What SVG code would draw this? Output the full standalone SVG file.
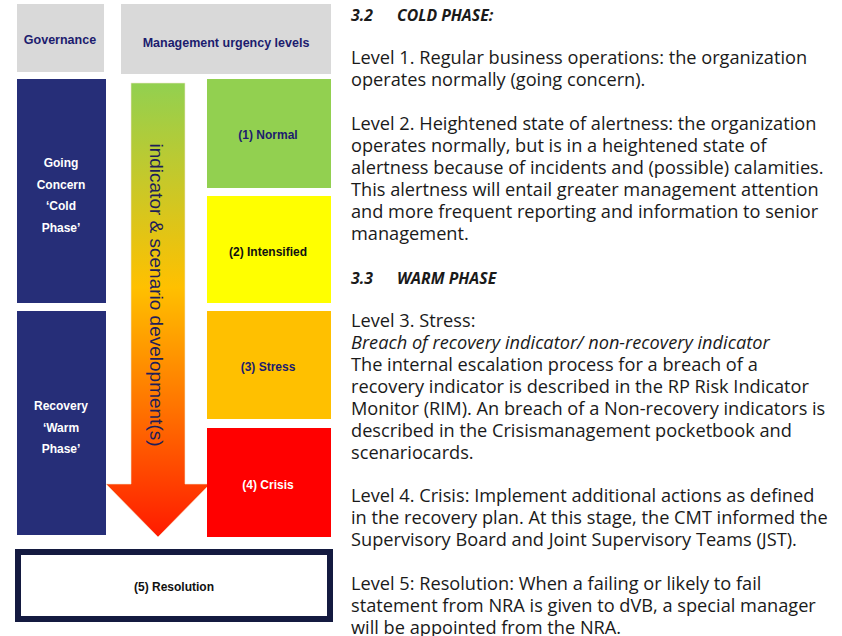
<svg xmlns="http://www.w3.org/2000/svg" width="842" height="636" viewBox="0 0 842 636">
<defs>
<linearGradient id="arrowGrad" gradientUnits="userSpaceOnUse" x1="0" y1="83" x2="0" y2="537">
<stop offset="0" stop-color="#92D050"/>
<stop offset="0.45" stop-color="#FFC000"/>
<stop offset="0.72" stop-color="#FF7200"/>
<stop offset="1" stop-color="#FF1A00"/>
</linearGradient>
<style>
.hdr{fill:#D9D9D9}
.navy{fill:#262E78}
.lbl{font-family:"Liberation Sans",Arial,sans-serif;font-weight:bold;font-size:12px;text-anchor:middle}
.big{font-size:12.5px}
.dk{fill:#1C1C6E}
.wt{fill:#FFFFFF}
.body{font-family:"Open Sans","Noto Sans",sans-serif;font-size:18.2px;fill:#1A1A1A}
.head{font-family:"Open Sans","Noto Sans",sans-serif;font-size:15.8px;font-weight:bold;font-style:italic;fill:#1A1A1A}
</style>
</defs>
<rect width="842" height="636" fill="#FFFFFF"/>

<g id="governance-header">
<rect class="hdr" x="17" y="4" width="87" height="68"/>
<text class="lbl big dk" x="60" y="44">Governance</text>
</g>
<g id="management-header">
<rect class="hdr" x="121" y="4" width="210" height="70"/>
<text class="lbl big dk" x="226" y="47">Management urgency levels</text>
</g>

<g id="going-concern">
<rect class="navy" x="17" y="79" width="89" height="224"/>
<text class="lbl wt" x="61" y="167">Going</text>
<text class="lbl wt" x="61" y="189">Concern</text>
<text class="lbl wt" x="61" y="210">‘Cold</text>
<text class="lbl wt" x="61" y="232">Phase’</text>
</g>
<g id="recovery">
<rect class="navy" x="17" y="311" width="89" height="224"/>
<text class="lbl wt" x="61" y="410">Recovery</text>
<text class="lbl wt" x="61" y="432">‘Warm</text>
<text class="lbl wt" x="61" y="453">Phase’</text>
</g>

<g id="connectors">
<path d="M131,83 L185,83 L185,484 L210,484 L158,537 L106,484 L131,484 Z" fill="url(#arrowGrad)" stroke="#F2E8D0" stroke-width="0.6"/>
<text x="295" y="-150" transform="rotate(90)" font-family="'Liberation Sans',Arial,sans-serif" font-size="19" fill="#1E1E5A" text-anchor="middle">indicator &amp; scenario development(s)</text>
</g>

<g id="level1">
<rect x="207" y="79" width="124" height="109" fill="#92D050"/>
<text class="lbl dk" x="268" y="139">(1) Normal</text>
</g>
<g id="level2">
<rect x="207" y="196" width="124" height="107" fill="#FFFF00"/>
<text class="lbl" fill="#111111" x="268" y="256">(2) Intensified</text>
</g>
<g id="level3">
<rect x="207" y="311" width="124" height="108" fill="#FFC000"/>
<text class="lbl dk" x="268" y="371">(3) Stress</text>
</g>
<g id="level4">
<rect x="207" y="428" width="124" height="109" fill="#FF0000"/>
<text class="lbl wt" x="268" y="489">(4) Crisis</text>
</g>
<g id="level5">
<rect x="18" y="552" width="312" height="67" fill="#FFFFFF" stroke="#141A40" stroke-width="6"/>
<text class="lbl" fill="#111111" x="174" y="591">(5) Resolution</text>
</g>

<g id="text-panel">
<text class="head" x="351" y="21">3.2</text>
<text class="head" x="397" y="21">COLD PHASE:</text>
<text class="body" x="351" y="64">Level 1. Regular business operations: the organization</text>
<text class="body" x="351" y="86">operates normally (going concern).</text>
<text class="body" x="351" y="130">Level 2. Heightened state of alertness: the organization</text>
<text class="body" x="351" y="152">operates normally, but is in a heightened state of</text>
<text class="body" x="351" y="174">alertness because of incidents and (possible) calamities.</text>
<text class="body" x="351" y="196">This alertness will entail greater management attention</text>
<text class="body" x="351" y="218">and more frequent reporting and information to senior</text>
<text class="body" x="351" y="240">management.</text>
<text class="head" x="351" y="284">3.3</text>
<text class="head" x="397" y="284">WARM PHASE</text>
<text class="body" x="351" y="327">Level 3. Stress:</text>
<text class="body" x="351" y="349" font-style="italic">Breach of recovery indicator/ non-recovery indicator</text>
<text class="body" x="351" y="371">The internal escalation process for a breach of a</text>
<text class="body" x="351" y="393">recovery indicator is described in the RP Risk Indicator</text>
<text class="body" x="351" y="415">Monitor (RIM). An breach of a Non-recovery indicators is</text>
<text class="body" x="351" y="437">described in the Crisismanagement pocketbook and</text>
<text class="body" x="351" y="459">scenariocards.</text>
<text class="body" x="351" y="502">Level 4. Crisis: Implement additional actions as defined</text>
<text class="body" x="351" y="524">in the recovery plan. At this stage, the CMT informed the</text>
<text class="body" x="351" y="546">Supervisory Board and Joint Supervisory Teams (JST).</text>
<text class="body" x="351" y="590">Level 5: Resolution: When a failing or likely to fail</text>
<text class="body" x="351" y="612">statement from NRA is given to dVB, a special manager</text>
<text class="body" x="351" y="634">will be appointed from the NRA.</text>
</g>
</svg>
